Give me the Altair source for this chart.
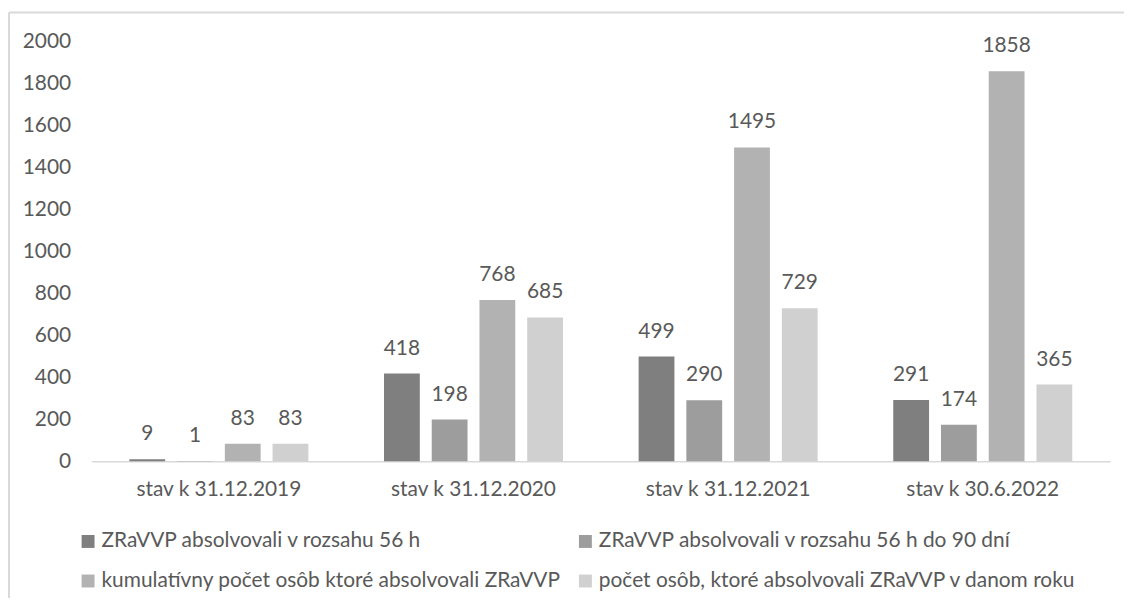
import altair as alt
import pandas as pd

categories = ["stav k 31.12.2019", "stav k 31.12.2020", "stav k 31.12.2021", "stav k 30.6.2022"]
series = [
    "ZRaVVP absolvovali v rozsahu 56 h",
    "ZRaVVP absolvovali v rozsahu 56 h do 90 dní",
    "kumulatívny počet osôb ktoré absolvovali ZRaVVP",
    "počet osôb, ktoré absolvovali ZRaVVP v danom roku",
]
s1 = [9, 418, 499, 291]
s2 = [1, 198, 290, 174]
s3 = [83, 768, 1495, 1858]
s4 = [83, 685, 729, 365]
colors = ["#7f7f7f", "#9d9d9d", "#b2b2b2", "#d0d0d0"]
y_ticks = [0, 200, 400, 600, 800, 1000, 1200, 1400, 1600, 1800, 2000]

rows = []
for i, c in enumerate(categories):
    for name, vals in zip(series, [s1, s2, s3, s4]):
        rows.append({"kategoria": c, "seria": name, "hodnota": vals[i]})
df = pd.DataFrame(rows)

FONT = "Lato"
TXT = "#595959"

base = alt.Chart(df).encode(
    x=alt.X(
        "kategoria:N",
        sort=categories,
        scale=alt.Scale(paddingInner=0.297, paddingOuter=0.1485),
        axis=alt.Axis(
            title=None, labelAngle=0, domainColor="#d9d9d9", domainWidth=1.5,
            ticks=False, labelPadding=18, labelFontSize=21, labelColor=TXT,
            labelFont=FONT,
        ),
    ),
    xOffset=alt.XOffset("seria:N", sort=series, scale=alt.Scale(paddingInner=0.25, paddingOuter=0)),
    y=alt.Y(
        "hodnota:Q",
        scale=alt.Scale(domain=[0, 2000], nice=False),
        axis=alt.Axis(
            title=None, values=y_ticks, format="d", grid=False, domain=False,
            ticks=False, labelPadding=21, labelFontSize=21, labelColor=TXT,
            labelFont=FONT,
        ),
    ),
)

bars = base.mark_bar().encode(
    color=alt.Color(
        "seria:N",
        sort=series,
        scale=alt.Scale(domain=series, range=colors),
        legend=alt.Legend(
            title=None, orient="none", legendX=-14, legendY=492, columns=2,
            direction="horizontal",
            symbolType="square", symbolSize=169, symbolStrokeWidth=0,
            labelFontSize=21, labelFont=FONT, labelColor=TXT, labelOffset=3,
            columnPadding=14, rowPadding=18, labelLimit=700, padding=0,
        ),
    )
)

labels = base.mark_text(
    baseline="alphabetic", dy=-19, font=FONT, fontSize=21, color=TXT
).encode(text=alt.Text("hodnota:Q", format="d"))

frame_data = pd.DataFrame({"a": [0]})
top_line = alt.Chart(frame_data).mark_rule(stroke="#d9d9d9", strokeWidth=2).encode(
    x=alt.value(-83), x2=alt.value(1300), y=alt.value(-29)
)
left_line = alt.Chart(frame_data).mark_rule(stroke="#d9d9d9", strokeWidth=2).encode(
    x=alt.value(-83), y=alt.value(-29), y2=alt.value(900)
)

chart = alt.layer(top_line, left_line, bars, labels).properties(
    width=1024,
    height=422,
    autosize=alt.AutoSizeParams(type="none"),
    padding={"left": 84, "top": 32, "right": 14, "bottom": 136},
).configure_view(strokeWidth=0)

chart.save("out.html", embed_options={"renderer": "svg", "actions": False})
